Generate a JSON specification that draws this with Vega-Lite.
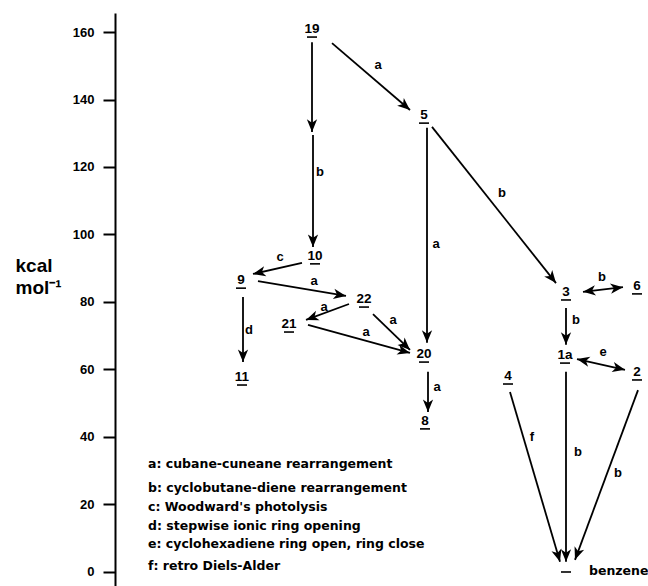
{
  "$schema": "https://vega.github.io/schema/vega-lite/v6.json",
  "width": 533,
  "height": 573,
  "autosize": {"type": "none"},
  "padding": {"left": 115, "top": 13, "right": 0, "bottom": 0},
  "background": "white",
  "config": {"view": {"stroke": null}, "font": "Liberation Sans"},
  "datasets": {
    "levels": [
      {"lbl": "19", "x": 197, "y": 158.5},
      {"lbl": "5", "x": 309, "y": 133.0},
      {"lbl": "10", "x": 200, "y": 91.3},
      {"lbl": "9", "x": 126, "y": 84.1},
      {"lbl": "22", "x": 249, "y": 78.5},
      {"lbl": "21", "x": 174, "y": 71.1},
      {"lbl": "20", "x": 309, "y": 62.2},
      {"lbl": "8", "x": 310, "y": 42.4},
      {"lbl": "11", "x": 127, "y": 55.4},
      {"lbl": "3", "x": 451, "y": 80.6},
      {"lbl": "6", "x": 522, "y": 82.4},
      {"lbl": "1a", "x": 450, "y": 61.9},
      {"lbl": "2", "x": 522, "y": 56.9},
      {"lbl": "4", "x": 393, "y": 55.7},
      {"lbl": "", "x": 451, "y": 0}
    ],
    "arrows": [
      {"x": 197, "y": 157.0, "x2": 197, "y2": 130.4, "dbl": false},
      {"x": 198, "y": 129.5, "x2": 198, "y2": 96.3, "dbl": false},
      {"x": 217, "y": 156.7, "x2": 295, "y2": 136.9, "dbl": false},
      {"x": 317, "y": 131.9, "x2": 441, "y2": 85.6, "dbl": false},
      {"x": 312, "y": 131.6, "x2": 312, "y2": 67.9, "dbl": false},
      {"x": 187, "y": 91.6, "x2": 138, "y2": 88.3, "dbl": false},
      {"x": 143, "y": 86.2, "x2": 231, "y2": 81.8, "dbl": false},
      {"x": 234, "y": 79.4, "x2": 191, "y2": 74.7, "dbl": false},
      {"x": 193, "y": 73.2, "x2": 295, "y2": 64.9, "dbl": false},
      {"x": 258, "y": 76.4, "x2": 295, "y2": 65.8, "dbl": false},
      {"x": 128, "y": 81.5, "x2": 128, "y2": 62.2, "dbl": false},
      {"x": 313, "y": 59.3, "x2": 313, "y2": 47.4, "dbl": false},
      {"x": 468, "y": 83.0, "x2": 508, "y2": 84.4, "dbl": true},
      {"x": 451, "y": 78.2, "x2": 451, "y2": 67.3, "dbl": false},
      {"x": 462, "y": 63.1, "x2": 510, "y2": 59.9, "dbl": true},
      {"x": 395, "y": 53.3, "x2": 445, "y2": 3.0, "dbl": false},
      {"x": 451, "y": 59.3, "x2": 451, "y2": 3.0, "dbl": false},
      {"x": 523, "y": 53.9, "x2": 460, "y2": 3.6, "dbl": false}
    ],
    "arrowLabels": [
      {"t": "b", "x": 205, "y": 118.5},
      {"t": "a", "x": 263, "y": 150.2},
      {"t": "a", "x": 321, "y": 97.2},
      {"t": "b", "x": 387, "y": 112.3},
      {"t": "c", "x": 165, "y": 93.3},
      {"t": "a", "x": 199, "y": 86.2},
      {"t": "a", "x": 209, "y": 78.5},
      {"t": "a", "x": 251, "y": 71.1},
      {"t": "a", "x": 278, "y": 74.7},
      {"t": "d", "x": 134, "y": 71.7},
      {"t": "a", "x": 322, "y": 54.8},
      {"t": "b", "x": 487, "y": 87.4},
      {"t": "b", "x": 461, "y": 74.7},
      {"t": "e", "x": 488, "y": 65.2},
      {"t": "f", "x": 417, "y": 40.0},
      {"t": "b", "x": 463, "y": 35.6},
      {"t": "b", "x": 503, "y": 29.3}
    ],
    "legend": [
      {"t": "a: cubane-cuneane rearrangement", "x": 33, "y": 32.0},
      {"t": "b: cyclobutane-diene rearrangement", "x": 33, "y": 24.9},
      {"t": "c: Woodward's photolysis", "x": 33, "y": 19.3},
      {"t": "d: stepwise ionic ring opening", "x": 33, "y": 13.6},
      {"t": "e: cyclohexadiene ring open, ring close", "x": 33, "y": 8.3},
      {"t": "f: retro Diels-Alder", "x": 33, "y": 1.8}
    ],
    "names": [
      {"t": "benzene", "x": 474, "y": 0.2}
    ]
  },
  "layer": [
    {
      "data": {"name": "arrows"},
      "mark": {"type": "rule", "color": "black", "strokeWidth": 1.8},
      "encoding": {
        "x": {"field": "x", "type": "quantitative", "scale": {"domain": [0, 533], "nice": false, "zero": false}, "axis": null},
        "y": {"field": "y", "type": "quantitative", "scale": {"domain": [-4.15, 165.63], "nice": false, "zero": false},
          "axis": {
            "values": [0, 20, 40, 60, 80, 100, 120, 140, 160],
            "grid": false,
            "domainColor": "black", "domainWidth": 2,
            "tickColor": "black", "tickWidth": 2, "tickSize": 12,
            "labelFont": "Liberation Sans", "labelFontWeight": "bold", "labelFontSize": 13, "labelColor": "black", "labelPadding": 9,
            "title": ["kcal", "mol⁻¹"],
            "titleFont": "Liberation Sans", "titleFontSize": 19, "titleFontWeight": "bold", "titleColor": "black",
            "titleAngle": 0, "titleAlign": "left", "titleBaseline": "alphabetic",
            "titleX": -100, "titleY": 258, "titleLineHeight": 22
          }},
        "x2": {"field": "x2"},
        "y2": {"field": "y2"}
      }
    },
    {
      "data": {"name": "arrows"},
      "transform": [{"calculate": "atan2(datum.x2 - datum.x, (datum.y2 - datum.y) * 3.375) * 180 / PI", "as": "ang"}],
      "mark": {"type": "point", "shape": "M0,0L0.9,2.2L0,1.6L-0.9,2.2Z", "filled": true, "size": 130, "color": "black", "opacity": 1, "strokeWidth": 0},
      "encoding": {
        "x": {"field": "x2", "type": "quantitative", "scale": {"domain": [0, 533], "nice": false, "zero": false}, "axis": null},
        "y": {"field": "y2", "type": "quantitative", "scale": {"domain": [-4.15, 165.63], "nice": false, "zero": false},
          "axis": {
            "values": [0, 20, 40, 60, 80, 100, 120, 140, 160],
            "grid": false,
            "domainColor": "black", "domainWidth": 2,
            "tickColor": "black", "tickWidth": 2, "tickSize": 12,
            "labelFont": "Liberation Sans", "labelFontWeight": "bold", "labelFontSize": 13, "labelColor": "black", "labelPadding": 9,
            "title": ["kcal", "mol⁻¹"],
            "titleFont": "Liberation Sans", "titleFontSize": 19, "titleFontWeight": "bold", "titleColor": "black",
            "titleAngle": 0, "titleAlign": "left", "titleBaseline": "alphabetic",
            "titleX": -100, "titleY": 258, "titleLineHeight": 22
          }},
        "angle": {"field": "ang", "type": "quantitative", "scale": null}
      }
    },
    {
      "data": {"name": "arrows"},
      "transform": [
        {"filter": "datum.dbl"},
        {"calculate": "atan2(datum.x - datum.x2, (datum.y - datum.y2) * 3.375) * 180 / PI", "as": "ang"}
      ],
      "mark": {"type": "point", "shape": "M0,0L0.9,2.2L0,1.6L-0.9,2.2Z", "filled": true, "size": 130, "color": "black", "opacity": 1, "strokeWidth": 0},
      "encoding": {
        "x": {"field": "x", "type": "quantitative", "scale": {"domain": [0, 533], "nice": false, "zero": false}, "axis": null},
        "y": {"field": "y", "type": "quantitative", "scale": {"domain": [-4.15, 165.63], "nice": false, "zero": false},
          "axis": {
            "values": [0, 20, 40, 60, 80, 100, 120, 140, 160],
            "grid": false,
            "domainColor": "black", "domainWidth": 2,
            "tickColor": "black", "tickWidth": 2, "tickSize": 12,
            "labelFont": "Liberation Sans", "labelFontWeight": "bold", "labelFontSize": 13, "labelColor": "black", "labelPadding": 9,
            "title": ["kcal", "mol⁻¹"],
            "titleFont": "Liberation Sans", "titleFontSize": 19, "titleFontWeight": "bold", "titleColor": "black",
            "titleAngle": 0, "titleAlign": "left", "titleBaseline": "alphabetic",
            "titleX": -100, "titleY": 258, "titleLineHeight": 22
          }},
        "angle": {"field": "ang", "type": "quantitative", "scale": null}
      }
    },
    {
      "data": {"name": "levels"},
      "mark": {"type": "tick", "orient": "horizontal", "size": 10, "thickness": 1.6, "color": "black", "opacity": 1},
      "encoding": {
        "x": {"field": "x", "type": "quantitative", "scale": {"domain": [0, 533], "nice": false, "zero": false}, "axis": null},
        "y": {"field": "y", "type": "quantitative", "scale": {"domain": [-4.15, 165.63], "nice": false, "zero": false},
          "axis": {
            "values": [0, 20, 40, 60, 80, 100, 120, 140, 160],
            "grid": false,
            "domainColor": "black", "domainWidth": 2,
            "tickColor": "black", "tickWidth": 2, "tickSize": 12,
            "labelFont": "Liberation Sans", "labelFontWeight": "bold", "labelFontSize": 13, "labelColor": "black", "labelPadding": 9,
            "title": ["kcal", "mol⁻¹"],
            "titleFont": "Liberation Sans", "titleFontSize": 19, "titleFontWeight": "bold", "titleColor": "black",
            "titleAngle": 0, "titleAlign": "left", "titleBaseline": "alphabetic",
            "titleX": -100, "titleY": 258, "titleLineHeight": 22
          }}
      }
    },
    {
      "data": {"name": "levels"},
      "mark": {"type": "text", "font": "Liberation Sans", "fontWeight": "bold", "fontSize": 13.5, "color": "black", "baseline": "alphabetic", "align": "center", "dy": -4},
      "encoding": {
        "x": {"field": "x", "type": "quantitative", "scale": {"domain": [0, 533], "nice": false, "zero": false}, "axis": null},
        "y": {"field": "y", "type": "quantitative", "scale": {"domain": [-4.15, 165.63], "nice": false, "zero": false},
          "axis": {
            "values": [0, 20, 40, 60, 80, 100, 120, 140, 160],
            "grid": false,
            "domainColor": "black", "domainWidth": 2,
            "tickColor": "black", "tickWidth": 2, "tickSize": 12,
            "labelFont": "Liberation Sans", "labelFontWeight": "bold", "labelFontSize": 13, "labelColor": "black", "labelPadding": 9,
            "title": ["kcal", "mol⁻¹"],
            "titleFont": "Liberation Sans", "titleFontSize": 19, "titleFontWeight": "bold", "titleColor": "black",
            "titleAngle": 0, "titleAlign": "left", "titleBaseline": "alphabetic",
            "titleX": -100, "titleY": 258, "titleLineHeight": 22
          }},
        "text": {"field": "lbl"}
      }
    },
    {
      "data": {"name": "arrowLabels"},
      "mark": {"type": "text", "font": "Liberation Sans", "fontWeight": "bold", "fontSize": 13, "color": "black", "baseline": "middle", "align": "center"},
      "encoding": {
        "x": {"field": "x", "type": "quantitative", "scale": {"domain": [0, 533], "nice": false, "zero": false}, "axis": null},
        "y": {"field": "y", "type": "quantitative", "scale": {"domain": [-4.15, 165.63], "nice": false, "zero": false},
          "axis": {
            "values": [0, 20, 40, 60, 80, 100, 120, 140, 160],
            "grid": false,
            "domainColor": "black", "domainWidth": 2,
            "tickColor": "black", "tickWidth": 2, "tickSize": 12,
            "labelFont": "Liberation Sans", "labelFontWeight": "bold", "labelFontSize": 13, "labelColor": "black", "labelPadding": 9,
            "title": ["kcal", "mol⁻¹"],
            "titleFont": "Liberation Sans", "titleFontSize": 19, "titleFontWeight": "bold", "titleColor": "black",
            "titleAngle": 0, "titleAlign": "left", "titleBaseline": "alphabetic",
            "titleX": -100, "titleY": 258, "titleLineHeight": 22
          }},
        "text": {"field": "t"}
      }
    },
    {
      "data": {"name": "legend"},
      "mark": {"type": "text", "font": "DejaVu Sans", "fontWeight": "bold", "fontSize": 12.5, "color": "black", "baseline": "middle", "align": "left"},
      "encoding": {
        "x": {"field": "x", "type": "quantitative", "scale": {"domain": [0, 533], "nice": false, "zero": false}, "axis": null},
        "y": {"field": "y", "type": "quantitative", "scale": {"domain": [-4.15, 165.63], "nice": false, "zero": false},
          "axis": {
            "values": [0, 20, 40, 60, 80, 100, 120, 140, 160],
            "grid": false,
            "domainColor": "black", "domainWidth": 2,
            "tickColor": "black", "tickWidth": 2, "tickSize": 12,
            "labelFont": "Liberation Sans", "labelFontWeight": "bold", "labelFontSize": 13, "labelColor": "black", "labelPadding": 9,
            "title": ["kcal", "mol⁻¹"],
            "titleFont": "Liberation Sans", "titleFontSize": 19, "titleFontWeight": "bold", "titleColor": "black",
            "titleAngle": 0, "titleAlign": "left", "titleBaseline": "alphabetic",
            "titleX": -100, "titleY": 258, "titleLineHeight": 22
          }},
        "text": {"field": "t"}
      }
    },
    {
      "data": {"name": "names"},
      "mark": {"type": "text", "font": "DejaVu Sans", "fontWeight": "bold", "fontSize": 12.5, "color": "black", "baseline": "middle", "align": "left"},
      "encoding": {
        "x": {"field": "x", "type": "quantitative", "scale": {"domain": [0, 533], "nice": false, "zero": false}, "axis": null},
        "y": {"field": "y", "type": "quantitative", "scale": {"domain": [-4.15, 165.63], "nice": false, "zero": false},
          "axis": {
            "values": [0, 20, 40, 60, 80, 100, 120, 140, 160],
            "grid": false,
            "domainColor": "black", "domainWidth": 2,
            "tickColor": "black", "tickWidth": 2, "tickSize": 12,
            "labelFont": "Liberation Sans", "labelFontWeight": "bold", "labelFontSize": 13, "labelColor": "black", "labelPadding": 9,
            "title": ["kcal", "mol⁻¹"],
            "titleFont": "Liberation Sans", "titleFontSize": 19, "titleFontWeight": "bold", "titleColor": "black",
            "titleAngle": 0, "titleAlign": "left", "titleBaseline": "alphabetic",
            "titleX": -100, "titleY": 258, "titleLineHeight": 22
          }},
        "text": {"field": "t"}
      }
    }
  ]
}
